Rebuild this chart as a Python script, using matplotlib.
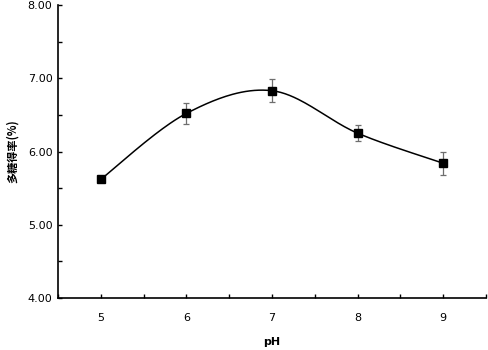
import numpy as np
import matplotlib.pyplot as plt
from matplotlib.ticker import MultipleLocator

plt.rcParams['font.family'] = ['DejaVu Sans', 'Noto Sans CJK SC']

ph = [5, 6, 7, 8, 9]
yield_pct = [5.62, 6.52, 6.83, 6.25, 5.84]
yield_err = [0.04, 0.14, 0.16, 0.11, 0.16]


def smooth_curve(x, y, n=40):
    '''Згладжена лінія як в Excel (Catmull-Rom через Безьє)'''
    px = np.array(x, float)
    py = np.array(y, float)
    px = np.concatenate([[px[0]], px, [px[-1]]])
    py = np.concatenate([[py[0]], py, [py[-1]]])
    xs, ys = [], []
    t = np.linspace(0, 1, n)
    for i in range(1, len(px) - 2):
        p0 = np.array([px[i], py[i]])
        p3 = np.array([px[i + 1], py[i + 1]])
        c1 = p0 + (p3 - np.array([px[i - 1], py[i - 1]])) / 6
        c2 = p3 - (np.array([px[i + 2], py[i + 2]]) - p0) / 6
        b = ((1 - t) ** 3)[:, None] * p0 + (3 * (1 - t) ** 2 * t)[:, None] * c1 \
            + (3 * (1 - t) * t ** 2)[:, None] * c2 + (t ** 3)[:, None] * p3
        xs.extend(b[:, 0])
        ys.extend(b[:, 1])
    return xs, ys


fig = plt.figure(figsize=(4.89, 3.5), dpi=100)
ax = fig.add_axes([58 / 489, 52 / 350, 428 / 489, 293 / 350])

sx, sy = smooth_curve(ph, yield_pct)
ax.plot(sx, sy, color='black', linewidth=1.1, zorder=2)
ax.errorbar(ph, yield_pct, yerr=yield_err, fmt='none', ecolor='#6e6e6e',
            elinewidth=0.9, capsize=2.5, capthick=0.9, zorder=3)
ax.plot(ph, yield_pct, 's', color='black', markersize=5.5, zorder=4)

ax.set_xlim(4.5, 9.5)
ax.set_xticks(ph)
ax.set_xticks([4.5, 5.5, 6.5, 7.5, 8.5, 9.5], minor=True)
ax.yaxis.set_major_locator(MultipleLocator(1.0))
ax.yaxis.set_minor_locator(MultipleLocator(0.5))
ax.set_ylim(4, 8)
ax.set_yticks([4, 5, 6, 7, 8])
ax.set_yticklabels([f'{v:.2f}' for v in [4, 5, 6, 7, 8]])

for s in ['top', 'right']:
    ax.spines[s].set_visible(False)
for s in ['left', 'bottom']:
    ax.spines[s].set_linewidth(1.2)

ax.tick_params(axis='both', which='both', direction='in', length=3, width=1,
               labelsize=8)
ax.tick_params(axis='x', pad=11)
ax.tick_params(axis='y', pad=4)

ax.set_xlabel('pH', fontsize=8, fontweight='bold', labelpad=10)
ax.set_ylabel('多糖得率(%)', fontsize=8, fontweight='bold',
              family=['Noto Sans CJK SC', 'DejaVu Sans'], labelpad=6)

fig.savefig('out.png', dpi=100)
